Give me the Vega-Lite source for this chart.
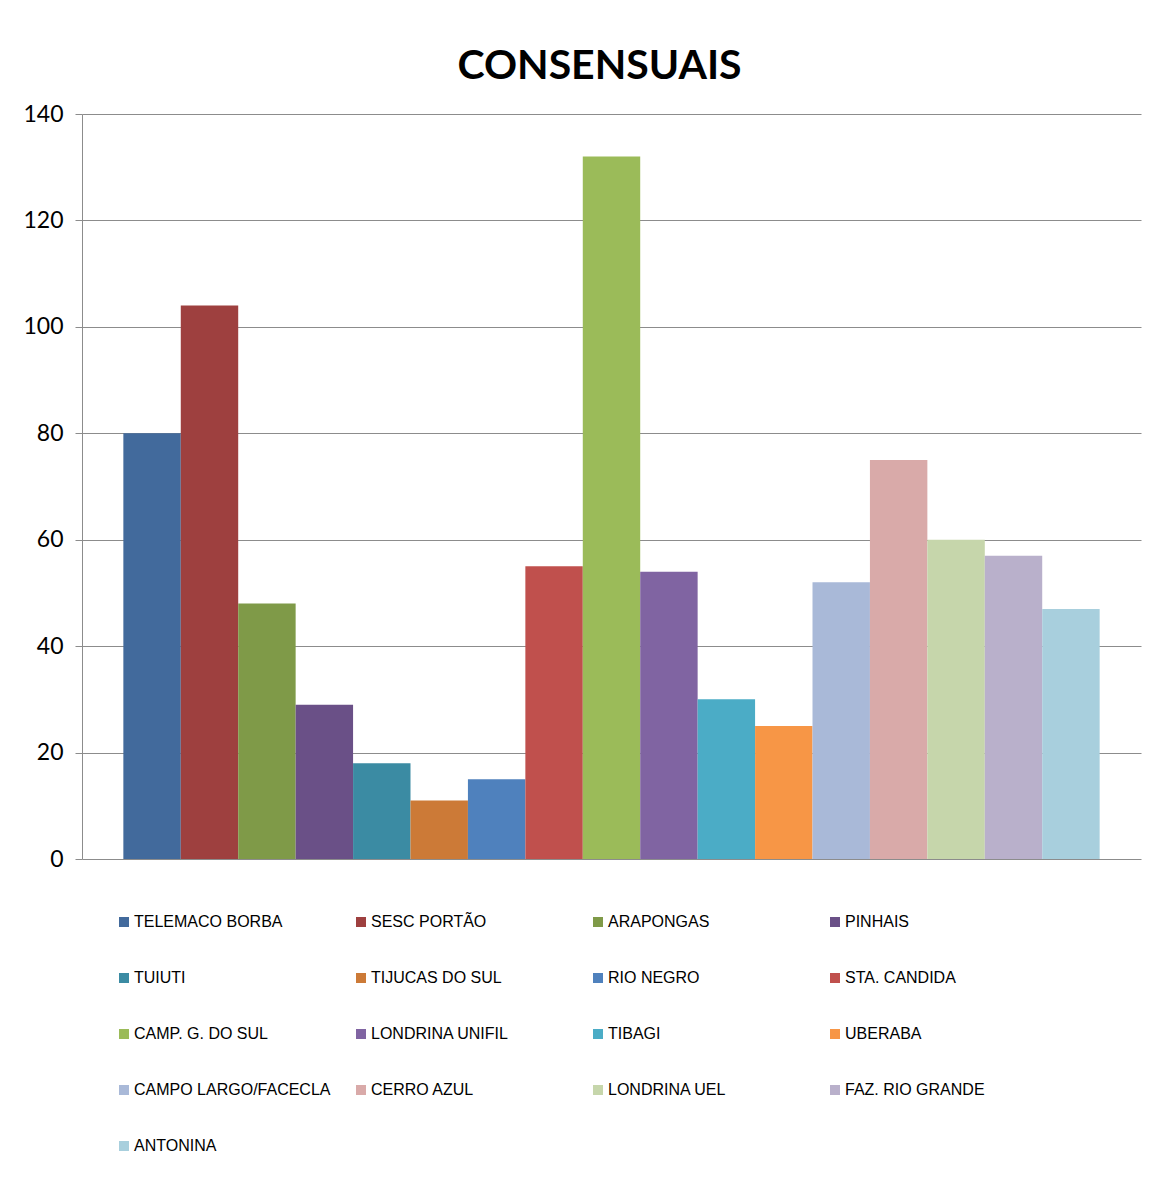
{
  "$schema": "https://vega.github.io/schema/vega-lite/v6.json",
  "width": 1059,
  "height": 745,
  "autosize": {"type": "none"},
  "padding": {"left": 82, "top": 114, "right": 14, "bottom": 323},
  "background": "white",
  "title": {
    "text": "CONSENSUAIS",
    "font": "Lato",
    "fontSize": 41,
    "fontWeight": "bold",
    "color": "black",
    "anchor": "middle",
    "dx": -12,
    "offset": 15
  },
  "data": {
    "values": [
      {"local": "TELEMACO BORBA", "valor": 80},
      {"local": "SESC PORTÃO", "valor": 104},
      {"local": "ARAPONGAS", "valor": 48},
      {"local": "PINHAIS", "valor": 29},
      {"local": "TUIUTI", "valor": 18},
      {"local": "TIJUCAS DO SUL", "valor": 11},
      {"local": "RIO NEGRO", "valor": 15},
      {"local": "STA. CANDIDA", "valor": 55},
      {"local": "CAMP. G. DO SUL", "valor": 132},
      {"local": "LONDRINA UNIFIL", "valor": 54},
      {"local": "TIBAGI", "valor": 30},
      {"local": "UBERABA", "valor": 25},
      {"local": "CAMPO LARGO/FACECLA", "valor": 52},
      {"local": "CERRO AZUL", "valor": 75},
      {"local": "LONDRINA UEL", "valor": 60},
      {"local": "FAZ. RIO GRANDE", "valor": 57},
      {"local": "ANTONINA", "valor": 47}
    ]
  },
  "mark": {"type": "bar"},
  "encoding": {
    "x": {
      "field": "local",
      "type": "nominal",
      "sort": null,
      "scale": {"paddingInner": 0, "paddingOuter": 0.72},
      "axis": null
    },
    "y": {
      "field": "valor",
      "type": "quantitative",
      "scale": {"domain": [0, 140], "nice": false},
      "axis": {
        "values": [0, 20, 40, 60, 80, 100, 120, 140],
        "title": null,
        "labelFont": "Lato",
        "labelFontSize": 23,
        "labelColor": "black",
        "labelPadding": 12,
        "tickSize": 7,
        "tickColor": "#8c8c8c",
        "domainColor": "#8c8c8c",
        "gridColor": "#8c8c8c",
        "grid": true
      }
    },
    "color": {
      "field": "local",
      "type": "nominal",
      "sort": null,
      "scale": {
        "range": ["#426a9c", "#9e403f", "#7f9a48", "#6a5087", "#3b8ba3", "#cc7a37", "#4f81bd", "#c0504d", "#9bbb59", "#8064a2", "#4bacc6", "#f79646", "#a9b9d8", "#d9aaa9", "#c6d6ab", "#b9b0cb", "#a8cfdd"]
      },
      "legend": {
        "title": null,
        "orient": "none",
        "direction": "horizontal",
        "legendX": 34,
        "legendY": 800,
        "columns": 4,
        "gridAlign": "all",
        "columnPadding": 22,
        "rowPadding": 40,
        "symbolType": "square",
        "symbolSize": 100,
        "symbolStrokeWidth": 0,
        "labelFont": "Liberation Sans",
        "labelFontSize": 16,
        "labelColor": "black",
        "labelOffset": 2,
        "labelLimit": 400
      }
    }
  },
  "config": {
    "view": {"stroke": null}
  }
}
